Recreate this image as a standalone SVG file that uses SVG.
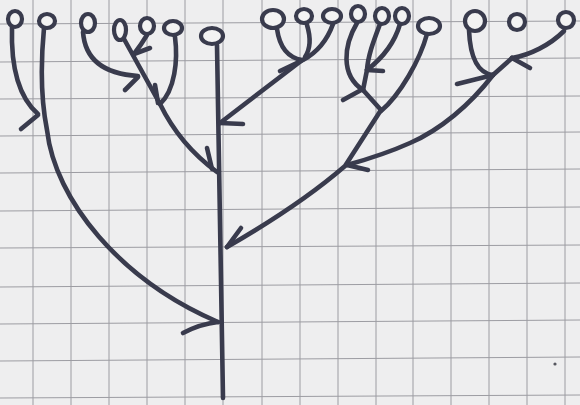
<svg xmlns="http://www.w3.org/2000/svg" width="580" height="405" viewBox="0 0 580 405">
<style>
.grid{stroke:#9c9ca2;stroke-width:1;fill:none}
.ink{stroke:#393b4d;stroke-width:4.6;fill:none;stroke-linecap:round;stroke-linejoin:round}
.leaf{stroke:#393b4d;stroke-width:4.2;fill:#f3f3f3}
</style>
<rect width="580" height="405" fill="#eeeeef"/>
<g id="grid">
<path class="grid" d="M33,0V405M71,0V405M109,0V405M147,0V405M185,0V405M223,0V405M262,0V405M300,0V405M338,0V405M376,0V405M413,0V405M451,0V405M489,0V405M527,0V405M565,0V405"/>
<path class="grid" d="M0,24L580,21M0,62L580,58M0,99L580,96M0,136L580,132M0,173L580,169M0,211L580,207M0,248L580,245M0,287L580,283M0,324L580,320M0,361L580,357M0,398L580,395"/>
</g>
<g id="connectors">
<path class="ink" d="M12,27C11,60 16,95 38,114"/>
<path class="ink" d="M44,28C40,70 41,100 47,130C55,200 120,280 218,322"/>
<path class="ink" d="M21,129L38,115"/>
<path class="ink" d="M183,333Q200,324 218,322"/>
<path class="ink" d="M83,32C85,60 105,74 138,76"/>
<path class="ink" d="M125,90L138,77"/>
<path class="ink" d="M124,39L160,104Q180,145 217,172"/>
<path class="ink" d="M147,35Q141,45 134,54"/>
<path class="ink" d="M134,54L150,48"/>
<path class="ink" d="M175,37C178,60 175,90 160,104"/>
<path class="ink" d="M155,85L158,103"/>
<path class="ink" d="M207,148L212,169"/>
<path class="ink" d="M217,45L223,398"/>
<path class="ink" d="M277,29C280,50 290,58 302,60"/>
<path class="ink" d="M307,25C311,38 311,48 305,57"/>
<path class="ink" d="M333,24C328,38 318,52 303,60"/>
<path class="ink" d="M280,71L301,61"/>
<path class="ink" d="M301,61L220,123"/>
<path class="ink" d="M220,123L243,124"/>
<path class="ink" d="M357,23C344,45 340,75 363,90"/>
<path class="ink" d="M380,24C374,40 368,55 367,70"/>
<path class="ink" d="M400,24C394,45 380,60 367,70"/>
<path class="ink" d="M367,70L383,71"/>
<path class="ink" d="M367,70L363,90"/>
<path class="ink" d="M343,100L363,89"/>
<path class="ink" d="M363,90L381,110"/>
<path class="ink" d="M427,34C420,60 400,95 381,111"/>
<path class="ink" d="M381,110L345,166Q300,205 227,247"/>
<path class="ink" d="M227,247L241,228"/>
<path class="ink" d="M469,30C470,55 476,73 493,75"/>
<path class="ink" d="M564,31C550,45 530,55 512,58"/>
<path class="ink" d="M512,58L530,68"/>
<path class="ink" d="M512,58L493,75"/>
<path class="ink" d="M457,84L493,75"/>
<path class="ink" d="M493,75C470,105 440,130 410,143C390,152 365,160 347,165"/>
<path class="ink" d="M347,165L368,170"/>
</g>
<g id="leaf1"><ellipse class="leaf" cx="15" cy="19" rx="7" ry="8"/></g>
<g id="leaf2"><ellipse class="leaf" cx="47" cy="21" rx="8" ry="7"/></g>
<g id="leaf3"><ellipse class="leaf" cx="88" cy="23" rx="7" ry="9"/></g>
<g id="leaf4"><ellipse class="leaf" cx="120" cy="30" rx="6" ry="10"/></g>
<g id="leaf5"><ellipse class="leaf" cx="147" cy="26" rx="7" ry="8"/></g>
<g id="leaf6"><ellipse class="leaf" cx="173" cy="28" rx="9" ry="7"/></g>
<g id="leaf7"><ellipse class="leaf" cx="212" cy="36" rx="11" ry="8"/></g>
<g id="leaf8"><ellipse class="leaf" cx="273" cy="19" rx="11" ry="9"/></g>
<g id="leaf9"><ellipse class="leaf" cx="304" cy="16" rx="8" ry="7"/></g>
<g id="leaf10"><ellipse class="leaf" cx="332" cy="16" rx="9" ry="7"/></g>
<g id="leaf11"><ellipse class="leaf" cx="358" cy="14" rx="7" ry="8"/></g>
<g id="leaf12"><ellipse class="leaf" cx="382" cy="16" rx="7" ry="8"/></g>
<g id="leaf13"><ellipse class="leaf" cx="402" cy="16" rx="7" ry="8"/></g>
<g id="leaf14"><ellipse class="leaf" cx="429" cy="26" rx="11" ry="8"/></g>
<g id="leaf15"><ellipse class="leaf" cx="475" cy="21" rx="10" ry="10"/></g>
<g id="leaf16"><ellipse class="leaf" cx="517" cy="22" rx="8" ry="8"/></g>
<g id="leaf17"><ellipse class="leaf" cx="566" cy="20" rx="8" ry="8"/></g>
<circle cx="555" cy="364" r="1.6" fill="#55565f"/>
</svg>
